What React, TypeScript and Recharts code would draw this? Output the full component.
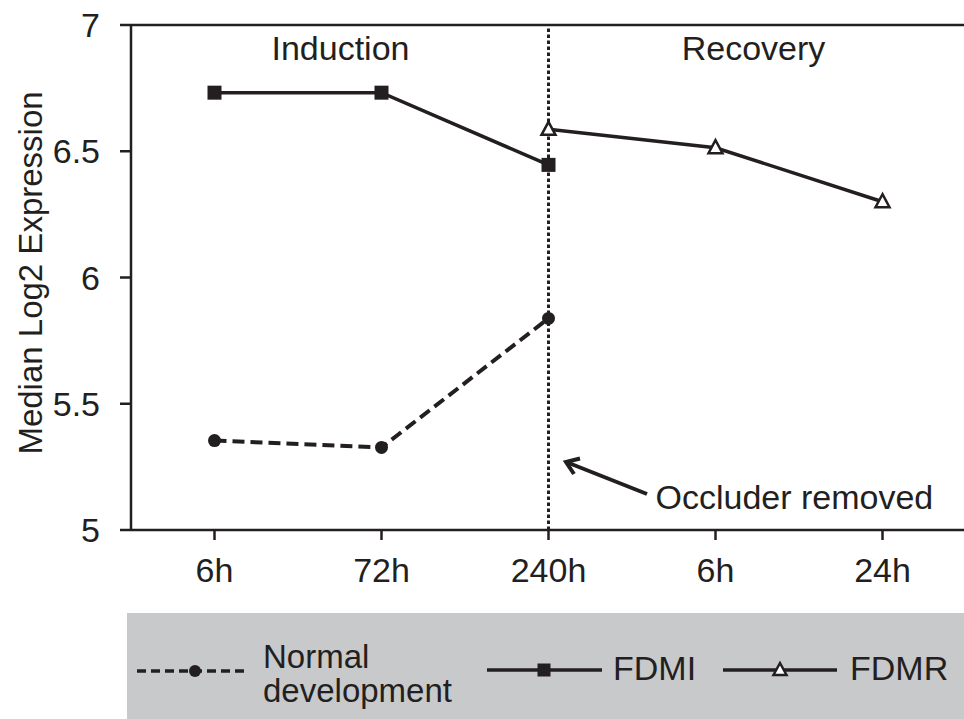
import { LineChart, Line, XAxis, YAxis, ReferenceLine, Legend } from 'recharts';

const timeLabels = ['6h', '72h', '240h', '6h', '24h'];
const normalDevelopment = [5.354, 5.327, 5.838, null, null];
const fdmi = [6.732, 6.732, 6.446, null, null];
const fdmr = [null, null, 6.587, 6.514, 6.3];
const yTicks = [5, 5.5, 6, 6.5, 7];

const data = timeLabels.map((label, i) => ({
  slot: i,
  label,
  normal: normalDevelopment[i],
  fdmi: fdmi[i],
  fdmr: fdmr[i],
}));

const INK = '#231f20';
const FONT = '"Liberation Sans", Arial, sans-serif';
const FS = 34;

const CircleDot = (props: any) => {
  const { cx, cy, index } = props;
  if (cx == null || cy == null) return <g key={`c-${index}`} />;
  return <circle key={`c-${index}`} cx={cx} cy={cy} r={6.5} fill={INK} />;
};

const SquareDot = (props: any) => {
  const { cx, cy, index } = props;
  if (cx == null || cy == null) return <g key={`s-${index}`} />;
  return <rect key={`s-${index}`} x={cx - 7} y={cy - 7} width={14} height={14} fill={INK} />;
};

const TriangleDot = (props: any) => {
  const { cx, cy, index } = props;
  if (cx == null || cy == null) return <g key={`t-${index}`} />;
  return (
    <polygon
      key={`t-${index}`}
      points={`${cx},${cy - 7.5} ${cx - 7},${cy + 5.5} ${cx + 7},${cy + 5.5}`}
      fill="#fff"
      stroke={INK}
      strokeWidth={2.5}
      strokeLinejoin="miter"
    />
  );
};

// phase titles + the "occluder removed" arrow hang off the 240h line
function renderPhaseLabels(props: any) {
  const vx = props.viewBox ? props.viewBox.x : 548;
  return (
    <g fontFamily={FONT} fontSize={FS} fill={INK}>
      <text x={vx - 208} y={60} textAnchor="middle">Induction</text>
      <text x={vx + 205} y={60} textAnchor="middle">Recovery</text>
      <text x={vx + 107} y={509} textAnchor="start">Occluder removed</text>
      <g stroke={INK} strokeWidth={4} fill="none" strokeLinecap="butt">
        <line x1={vx + 98.5} y1={494} x2={vx + 19} y2={462.5} />
        <polyline
          points={`${vx + 25.5},${474} ${vx + 17.5},${462} ${vx + 31.5},${458.5}`}
          strokeLinejoin="miter"
        />
      </g>
    </g>
  );
}

function renderYLabel() {
  return (
    <text
      x={42}
      y={273}
      transform="rotate(-90, 42, 273)"
      textAnchor="middle"
      fontFamily={FONT}
      fontSize={33}
      fill={INK}
    >
      Median Log2 Expression
    </text>
  );
}

function LegendBox() {
  return (
    <svg width={837} height={106} style={{ display: 'block', background: '#c8c9cb' }}>
      <g fontFamily={FONT} fill={INK}>
        <line x1={10} y1={58} x2={121} y2={58} stroke={INK} strokeWidth={3.5} strokeDasharray="9 5" />
        <circle cx={68} cy={58} r={6} fill={INK} />
        <text x={136} y={55} fontSize={33}>Normal</text>
        <text x={136} y={89} fontSize={33}>development</text>

        <line x1={360} y1={57} x2={475} y2={57} stroke={INK} strokeWidth={3.5} />
        <rect x={410.5} y={50.5} width={13} height={13} fill={INK} />
        <text x={486} y={67} fontSize={FS}>FDMI</text>

        <line x1={596} y1={57} x2={710} y2={57} stroke={INK} strokeWidth={3.5} />
        <polygon points="653,50 646.5,62 659.5,62" fill="#fff" stroke={INK} strokeWidth={2.5} />
        <text x={723} y={67} fontSize={FS}>FDMR</text>
      </g>
    </svg>
  );
}

export default function App() {
  return (
    <div
      style={{
        position: 'absolute',
        left: 0,
        top: 0,
        width: 964,
        height: 719,
        overflow: 'hidden',
        background: '#fff',
      }}
    >
      <LineChart width={966} height={719} data={data} margin={{ top: 25, right: 0, bottom: 13, left: 0 }}>
        <XAxis
          dataKey="slot"
          type="category"
          tickFormatter={(i: number) => timeLabels[i]}
          padding={{ left: 83.5, right: 83.5 }}
          height={70}
          stroke={INK}
          strokeWidth={2.5}
          tickSize={10}
          tickMargin={18}
          tick={{ fontSize: FS, fill: INK, fontFamily: FONT }}
          tickLine={{ stroke: INK, strokeWidth: 2.5 }}
        />
        <YAxis
          domain={[5, 7]}
          ticks={yTicks}
          width={131}
          stroke={INK}
          strokeWidth={2.5}
          tickSize={11}
          tickMargin={20}
          tick={{ fontSize: FS, fill: INK, fontFamily: FONT }}
          tickLine={{ stroke: INK, strokeWidth: 2.5 }}
          label={renderYLabel}
        />
        <ReferenceLine y={7} stroke={INK} strokeWidth={2.5} />
        <ReferenceLine
          x={2}
          stroke={INK}
          strokeWidth={3}
          strokeDasharray="3.5 2.5"
          label={renderPhaseLabels}
        />
        <Line
          dataKey="normal"
          name="Normal development"
          stroke={INK}
          strokeWidth={4}
          strokeDasharray="12 6"
          dot={CircleDot}
          activeDot={false}
          isAnimationActive={false}
        />
        <Line
          dataKey="fdmi"
          name="FDMI"
          stroke={INK}
          strokeWidth={3.5}
          dot={SquareDot}
          activeDot={false}
          isAnimationActive={false}
        />
        <Line
          dataKey="fdmr"
          name="FDMR"
          stroke={INK}
          strokeWidth={3.5}
          dot={TriangleDot}
          activeDot={false}
          isAnimationActive={false}
        />
        <Legend
          verticalAlign="bottom"
          content={() => <LegendBox />}
          wrapperStyle={{ left: 127, bottom: 0, width: 837, height: 106 }}
        />
      </LineChart>
    </div>
  );
}
